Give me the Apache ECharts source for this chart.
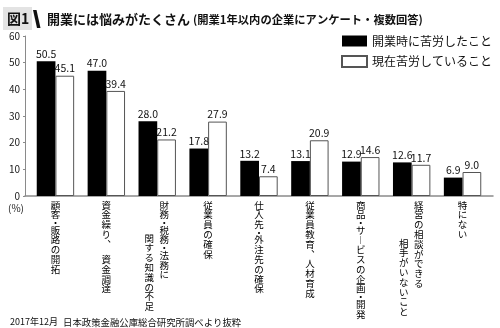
<!DOCTYPE html>
<html><head><meta charset="utf-8">
<script src="https://cdn.jsdelivr.net/npm/echarts@6/dist/echarts.min.js"></script>
<style>html,body{margin:0;padding:0;background:#fff}#c{width:500px;height:328px}</style>
</head><body><div id="c"></div>
<script>
const categories = ['顧客・販路の開拓','資金繰り、 資金調達','財務・税務・法務に関する知識の不足','従業員の確保','仕入先・外注先の確保','従業員教育、人材育成','商品・サービスの企画・開発','経営の相談ができる相手がいないこと','特にない'];
const labelCol1 = ['顧客・販路の開拓','資金繰り、 資金調達','財務・税務・法務に','従業員の確保','仕入先・外注先の確保','従業員教育、人材育成','商品・サービスの企画・開発','経営の相談ができる','特にない'];
const labelCol2 = ['','','関する知識の不足','','','','','相手がいないこと',''];
const seriesNames = ['開業時に苦労したこと','現在苦労していること'];
const startedValues = [50.5,47.0,28.0,17.8,13.2,13.1,12.9,12.6,6.9];
const currentValues = [45.1,39.4,21.2,27.9,7.4,20.9,14.6,11.7,9.0];
const yMin = 0, yMax = 60, yStep = 10;

const FONT = '"Noto Sans CJK JP", "Noto Sans", sans-serif';
const col2Drop = {2: 33, 7: 38};
const vmap = {'ー':'︱','、':'︑'};
function vtext(str, suf){
  const out = [];
  for (const ch0 of str){
    const ch = vmap[ch0] || ch0;
    if (ch === '・') out.push('{d'+suf+'|・}');
    else if (ch === ' ') out.push('{s'+suf+'| }');
    else out.push('{c'+suf+'|'+ch+'}');
  }
  return out.join('\n');
}
function richSet(){
  const base = {fontFamily: FONT, fontSize: 9.5, color: '#000'};
  const r = {};
  const pads = {'': [0,0,0,0], R: [0,0,0,14], L: [0,16,0,0]};
  for (const k in pads){
    r['c'+k] = Object.assign({}, base, {lineHeight: 9.8, padding: pads[k]});
    r['d'+k] = Object.assign({}, base, {lineHeight: 5.5, padding: pads[k]});
    r['s'+k] = Object.assign({}, base, {lineHeight: 5.5, padding: pads[k]});
  }
  for (const i in col2Drop){ r['g'+col2Drop[i]] = Object.assign({}, base, {lineHeight: col2Drop[i]}); }
  return r;
}
const rich = richSet();

const chart = echarts.init(document.getElementById('c'), null, {renderer: 'canvas'});
chart.setOption({
  animation: false,
  textStyle: {fontFamily: FONT},
  grid: [
    {left: 30, width: 458, top: 36, bottom: 132},
    {left: 25, right: 7, top: 36, bottom: 132}
  ],
  legend: {
    orient: 'vertical', left: 341, top: 35, padding: 0, itemWidth: 25, itemHeight: 11, itemGap: 8,
    icon: 'rect',
    textStyle: {fontSize: 12, color: '#111', fontFamily: FONT},
    data: seriesNames
  },
  xAxis: [
    {type: 'category', gridIndex: 0, position: 'bottom', data: categories,
     axisLine: {show: false}, axisTick: {show: false},
     axisLabel: {interval: 0, margin: 4, rich: rich,
       formatter: (v, i) => vtext(labelCol1[i], labelCol2[i] ? 'R' : '')}},
    {type: 'category', gridIndex: 0, position: 'bottom', data: categories,
     axisLine: {show: false}, axisTick: {show: false},
     axisLabel: {interval: 0, margin: 4, rich: rich,
       formatter: (v, i) => labelCol2[i] ? ('{g'+col2Drop[i]+'| }\n' + vtext(labelCol2[i], 'L')) : ''}},
    {type: 'category', gridIndex: 1, data: [''],
     axisLine: {show: true, lineStyle: {color: '#8a8a8a', width: 1.5}},
     axisTick: {show: false}, axisLabel: {show: false}}
  ],
  yAxis: [
    {type: 'value', gridIndex: 0, min: yMin, max: yMax, interval: yStep, show: false},
    {type: 'value', gridIndex: 1, min: yMin, max: yMax, interval: yStep,
     axisLine: {show: true, lineStyle: {color: '#8a8a8a', width: 1}},
     axisTick: {show: true, length: 2, lineStyle: {color: '#8a8a8a'}},
     splitLine: {show: false},
     axisLabel: {fontSize: 10, color: '#222', margin: 5, fontFamily: FONT}}
  ],
  series: [
    {name: seriesNames[0], type: 'bar', xAxisIndex: 0, yAxisIndex: 0, data: startedValues,
     barGap: '0%', barCategoryGap: '26.5%',
     itemStyle: {color: '#000'},
     label: {show: true, position: 'top', distance: 2, fontSize: 10.5, color: '#111', fontFamily: FONT,
       formatter: p => p.value.toFixed(1)}},
    {name: seriesNames[1], type: 'bar', xAxisIndex: 0, yAxisIndex: 0, data: currentValues,
     itemStyle: {color: '#fff', borderColor: '#555', borderWidth: 1},
     label: {show: true, position: 'top', distance: 2, fontSize: 10.5, color: '#111', fontFamily: FONT,
       formatter: p => p.value.toFixed(1)}}
  ],
  graphic: [
    {type: 'rect', shape: {x: 3, y: 7, width: 29, height: 23}, style: {fill: '#e3e3e3'}},
    {type: 'text', x: 7, y: 19, style: {text: '図1', font: 'bold 14px ' + FONT, fill: '#111', verticalAlign: 'middle'}},
    {type: 'polygon', shape: {points: [[33,10],[36.5,10],[40.5,28],[37,28]]}, style: {fill: '#111'}},
    {type: 'text', x: 47, y: 19, style: {text: '開業には悩みがたくさん', font: 'bold 13px ' + FONT, fill: '#111', verticalAlign: 'middle'}},
    {type: 'text', x: 193, y: 19.5, style: {text: '(開業1年以内の企業にアンケート・複数回答)', font: 'bold 11.3px ' + FONT, fill: '#111', verticalAlign: 'middle'}},
    {type: 'text', x: 8, y: 208, style: {text: '(%)', font: '10px ' + FONT, fill: '#222', verticalAlign: 'middle'}},
    {type: 'text', x: 10, y: 322, style: {text: '2017年12月', font: '9px ' + FONT, fill: '#111', verticalAlign: 'middle'}},
    {type: 'text', x: 63, y: 322, style: {text: '日本政策金融公庫総合研究所調べより抜粋', font: '9.4px ' + FONT, fill: '#111', verticalAlign: 'middle'}}
  ]
});
</script></body></html>
